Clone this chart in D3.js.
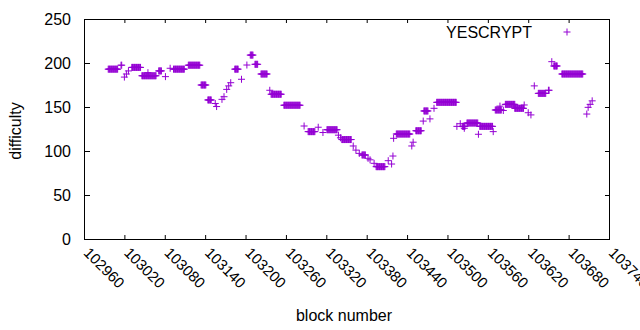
<!DOCTYPE html>
<html>
<head>
<meta charset="utf-8">
<script src="https://cdn.jsdelivr.net/npm/d3@7"></script>
<style>
  html, body { margin: 0; padding: 0; background: #fff; }
  svg { display: block; }
  text { font-family: "Liberation Sans", Arial, sans-serif; fill: #000; }
</style>
</head>
<body>
<svg id="chart" width="640" height="330"></svg>
<script>
// ---- data: runs of constant difficulty (block range -> difficulty) ----
const runStartBlock = [
  102996, 103015, 103020, 103023, 103026, 103031, 103046, 103055, 103071, 103081,
  103088, 103093, 103115, 103134, 103144, 103155, 103157, 103165, 103168, 103172,
  103175, 103178, 103184, 103194, 103202, 103207, 103214, 103223, 103236, 103238,
  103257, 103287, 103293, 103308, 103315, 103321, 103338, 103341, 103343, 103360,
  103364, 103369, 103373, 103382, 103385, 103391, 103394, 103412, 103417, 103419,
  103420, 103424, 103447, 103449, 103453, 103464, 103465, 103474, 103480, 103484,
  103514, 103519, 103522, 103525, 103529, 103546, 103548, 103568, 103571, 103578,
  103583, 103586, 103600, 103614, 103620, 103624, 103629, 103635, 103650, 103655,
  103658, 103670, 103707, 103709, 103712, 103715
];
const runEndBlock = [
  103010, 103016, 103020, 103023, 103026, 103044, 103067, 103055, 103075, 103081,
  103088, 103109, 103132, 103141, 103149, 103155, 103157, 103165, 103168, 103172,
  103175, 103178, 103189, 103194, 103202, 103211, 103218, 103232, 103236, 103253,
  103281, 103287, 103303, 103308, 103315, 103336, 103338, 103341, 103357, 103360,
  103364, 103369, 103378, 103382, 103385, 103391, 103407, 103412, 103417, 103419,
  103420, 103444, 103447, 103449, 103461, 103464, 103471, 103474, 103480, 103513,
  103514, 103519, 103526, 103525, 103545, 103546, 103567, 103568, 103580, 103578,
  103583, 103600, 103613, 103614, 103620, 103624, 103629, 103646, 103651, 103655,
  103663, 103701, 103707, 103709, 103712, 103715
];
const runDifficulty = [
  193, 197.5, 184, 187.5, 191, 195, 185.5, 189, 191, 184.5,
  194, 193, 197.5, 175, 158, 154, 150.5, 158.7, 161.7, 170,
  174, 177.6, 193, 181.5, 197.7, 209, 198.5, 187.5, 169, 164.5,
  152, 128.4, 122, 127, 121, 124.2, 118, 115, 113, 105.7,
  101, 97.3, 95.5, 91.7, 90, 86, 82.2, 89, 85.2, 94.3,
  114.4, 119.3, 105.7, 110, 123, 134, 145.5, 136.5, 148.5, 155.3,
  128, 131, 128, 125.8, 131.8, 119, 128, 122, 146.6, 151,
  146, 153, 148.5, 152.3, 143.5, 141, 174, 165.5, 169, 201.5,
  196.6, 187.5, 142, 149.6, 153, 157
];
const seriesName = "YESCRYPT";
const xTicks = [102960, 103020, 103080, 103140, 103200, 103260, 103320, 103380, 103440, 103500, 103560, 103620, 103680, 103740];
const yTicks = [0, 50, 100, 150, 200, 250];
const xTitle = "block number";
const yTitle = "difficulty";

// one point per block inside each run
const points = [];
runStartBlock.forEach((s, i) => {
  for (let b = s; b <= runEndBlock[i]; b++) points.push({ block: b, diff: runDifficulty[i] });
});

const color = "#9400d3";
const svg = d3.select("#chart");
const x = d3.scaleLinear().domain([102960, 103740]).range([84, 609]);
const y = d3.scaleLinear().domain([0, 250]).range([239, 19]);

const xTickFont = 15;
const yTickFont = 16;
const titleFont = 16;

// left axis
const gy = svg.append("g").attr("transform", "translate(84,0)")
  .call(d3.axisLeft(y).tickValues(yTicks).tickSize(-6).tickPadding(13).tickFormat(d3.format("d")));
gy.select(".domain").remove();
gy.selectAll("line").attr("stroke", "#000");
gy.selectAll("text").attr("font-size", yTickFont).attr("font-family", "Liberation Sans, Arial, sans-serif");

// right mirror ticks
const gyr = svg.append("g").attr("transform", "translate(609,0)")
  .call(d3.axisRight(y).tickValues(yTicks).tickSize(-4).tickFormat(""));
gyr.select(".domain").remove();
gyr.selectAll("line").attr("stroke", "#000");

// bottom axis
const gx = svg.append("g").attr("transform", "translate(0,239)")
  .call(d3.axisBottom(x).tickValues(xTicks).tickSize(-4).tickFormat(d3.format("d")));
gx.select(".domain").remove();
gx.selectAll("line").attr("stroke", "#000");
gx.selectAll("text")
  .attr("font-size", xTickFont)
  .attr("font-family", "Liberation Sans, Arial, sans-serif")
  .attr("x", 0).attr("y", 0).attr("dy", "0.35em")
  .attr("text-anchor", "start")
  .attr("transform", "translate(2,11) rotate(45)");

// top mirror ticks
const gxt = svg.append("g").attr("transform", "translate(0,19)")
  .call(d3.axisTop(x).tickValues(xTicks).tickSize(-4).tickFormat(""));
gxt.select(".domain").remove();
gxt.selectAll("line").attr("stroke", "#000");

// border
svg.append("rect")
  .attr("x", 84.5).attr("y", 19.5)
  .attr("width", 609 - 84).attr("height", 239 - 19)
  .attr("fill", "none").attr("stroke", "#000").attr("stroke-width", 1);

// points as "+" markers
const h = 3.5;
const plus = d => `M${-h},0H${h}M0,${-h}V${h}`;
svg.append("g")
  .selectAll("path")
  .data(points)
  .join("path")
  .attr("transform", d => `translate(${x(d.block)},${y(d.diff)})`)
  .attr("d", plus)
  .attr("fill", "none")
  .attr("stroke", color)
  .attr("stroke-width", 1);

// legend
svg.append("text")
  .attr("x", 532).attr("y", 32).attr("dy", "0.35em")
  .attr("text-anchor", "end").attr("font-size", titleFont)
  .text(seriesName);
svg.append("path")
  .attr("transform", "translate(567,32)")
  .attr("d", plus())
  .attr("fill", "none").attr("stroke", color).attr("stroke-width", 1);

// axis titles
svg.append("text")
  .attr("x", 344).attr("y", 321)
  .attr("text-anchor", "middle").attr("font-size", titleFont)
  .text(xTitle);
svg.append("text")
  .attr("transform", "translate(21,131) rotate(-90)")
  .attr("text-anchor", "middle").attr("font-size", titleFont)
  .text(yTitle);
</script>
</body>
</html>
